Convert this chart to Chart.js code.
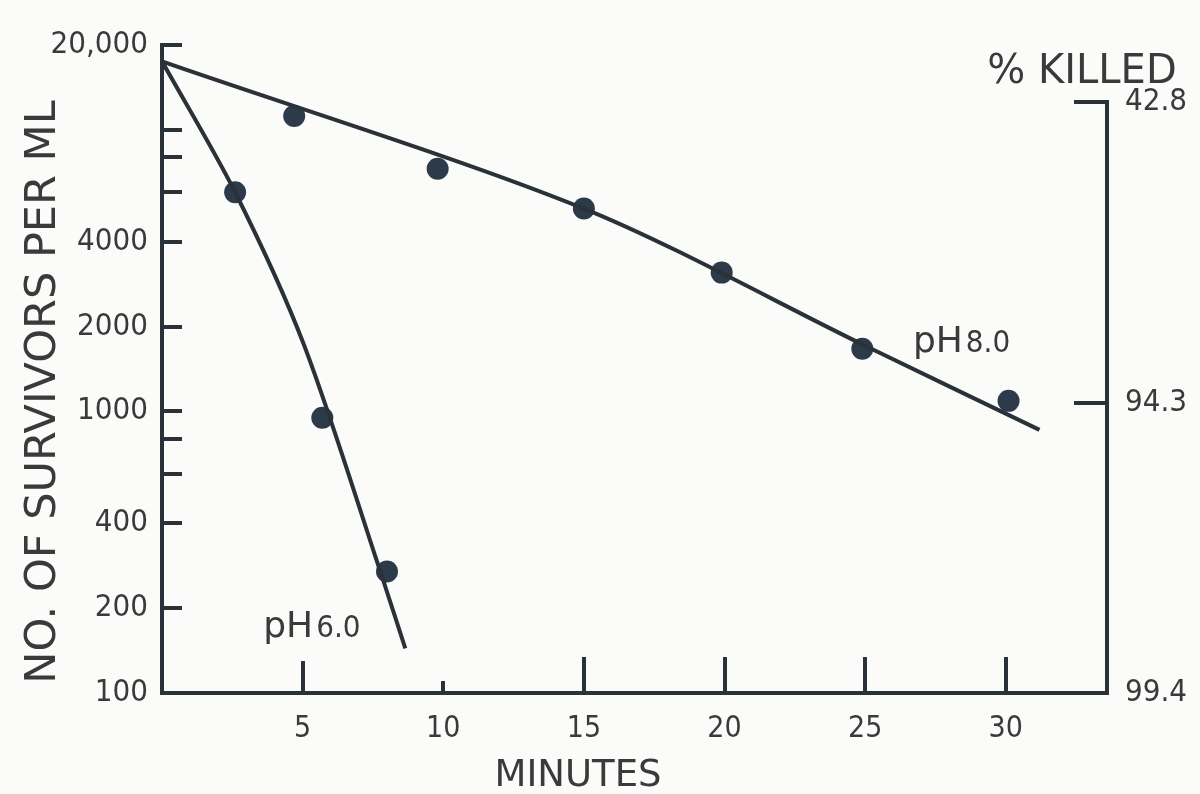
<!DOCTYPE html>
<html>
<head>
<meta charset="utf-8">
<script src="https://cdn.jsdelivr.net/npm/chart.js@4/dist/chart.umd.min.js"></script>
<style>
  html, body { margin: 0; background: #fbfbfa; }
  #wrap { width: 1200px; height: 794px; }
</style>
</head>
<body>
<div id="wrap"><canvas id="killChart" width="1200" height="794"></canvas></div>
<script>
// Survivor curves at pH 8.0 and pH 6.0

// measured points (minutes, survivors per ml)
const minutes8 = [4.7, 9.8, 15.0, 19.9, 24.9, 30.1];
const survivors8 = [11200, 7270, 5250, 3110, 1670, 1090];
const minutes6 = [2.6, 5.7, 8.0];
const survivors6 = [6000, 950, 270];

// drawn curves through them
const curveMinutes8 = [0, 15.0, 25.0, 31.2];
const curveSurvivors8 = [17500, 5250, 1710, 860];
const curveMinutes6 = [0, 2.6, 5.05, 7.86, 8.65];
const curveSurvivors6 = [17500, 6000, 1720, 252, 144];

// axes
const minuteTicks = [5, 10, 15, 20, 25, 30];
const survivorTicks = [100, 200, 400, 1000, 2000, 4000, 20000];
const survivorMarks = [200, 400, 600, 800, 1000, 2000, 4000, 6000, 8000, 10000, 20000];
const killedAt = [12600, 1070, 100];
const killedLabels = ['42.8', '94.3', '99.4'];

const ink = '#2b3138';
const dotInk = '#2c3a4a';
const textInk = '#3a3a3a';
const narrow = "'DejaVu Sans Condensed', 'Liberation Sans Narrow', 'DejaVu Sans', sans-serif";
const plain = "'DejaVu Sans', sans-serif";

const toXY = (xs, ys) => xs.map((v, i) => ({ x: v, y: ys[i] }));

// inward tick marks, the short right axis and the hand-lettered labels
const extras = {
  id: 'extras',
  afterDraw(chart) {
    const { ctx, chartArea: a, scales: { x, y, y2 } } = chart;
    const seg = (x1, y1, x2, y2_) => { ctx.beginPath(); ctx.moveTo(x1, y1); ctx.lineTo(x2, y2_); ctx.stroke(); };
    ctx.save();
    ctx.strokeStyle = ink;
    ctx.lineWidth = 4;

    survivorMarks.forEach(v => {
      const py = Math.round(y.getPixelForValue(v));
      seg(a.left, py, a.left + 20, py);
    });
    minuteTicks.forEach(v => {
      const px = Math.round(x.getPixelForValue(v));
      const len = v === 10 ? 12 : (v === 5 ? 32 : 36);
      seg(px, a.bottom, px, a.bottom - len);
    });

    const rTop = Math.round(y2.getPixelForValue(killedAt[0]));
    ctx.lineCap = 'square';
    seg(a.right, rTop, a.right, a.bottom);
    ctx.lineCap = 'butt';
    killedAt.forEach(v => {
      const py = Math.round(y2.getPixelForValue(v));
      seg(a.right - 33, py, a.right, py);
    });

    ctx.fillStyle = textInk;
    ctx.textBaseline = 'alphabetic';

    // axis titles
    ctx.textAlign = 'center';
    ctx.font = '37px ' + plain;
    ctx.fillText('MINUTES', 578, 786);
    ctx.font = '40px ' + plain;
    ctx.fillText('% KILLED', 1082, 83);

    ctx.save();
    ctx.translate(55, 392);
    ctx.rotate(-Math.PI / 2);
    ctx.font = '43px ' + plain;
    ctx.fillText('NO. OF SURVIVORS PER ML', 0, 0);
    ctx.restore();

    // curve labels
    const tag = (ph, val, px, py) => {
      ctx.textAlign = 'left';
      ctx.font = '36px ' + plain;
      ctx.fillText(ph, px, py);
      const w = ctx.measureText(ph).width;
      ctx.font = '31px ' + narrow;
      ctx.fillText(val, px + w + 3, py);
    };
    tag('pH', '8.0', x.getPixelForValue(26.7), y.getPixelForValue(1620));
    tag('pH', '6.0', x.getPixelForValue(3.6), y.getPixelForValue(158));
    ctx.restore();
  }
};

new Chart(document.getElementById('killChart'), {
  data: {
    datasets: [
      {
        type: 'line',
        label: 'pH 8.0 curve',
        data: toXY(curveMinutes8, curveSurvivors8),
        borderColor: ink,
        borderWidth: 4,
        pointRadius: 0,
        tension: 0.3
      },
      {
        type: 'line',
        label: 'pH 6.0 curve',
        data: toXY(curveMinutes6, curveSurvivors6),
        borderColor: ink,
        borderWidth: 4,
        pointRadius: 0,
        tension: 0.3
      },
      {
        type: 'scatter',
        label: 'pH 8.0',
        data: toXY(minutes8, survivors8),
        pointRadius: 11,
        pointBackgroundColor: dotInk,
        pointBorderWidth: 0
      },
      {
        type: 'scatter',
        label: 'pH 6.0',
        data: toXY(minutes6, survivors6),
        pointRadius: 11,
        pointBackgroundColor: dotInk,
        pointBorderWidth: 0
      }
    ]
  },
  options: {
    responsive: false,
    animation: false,
    devicePixelRatio: 1,
    layout: { padding: { top: 45, left: 0, right: 0, bottom: 0 } },
    plugins: {
      legend: { display: false },
      tooltip: { enabled: false }
    },
    scales: {
      x: {
        type: 'linear',
        position: 'bottom',
        min: 0,
        max: 33.6,
        afterFit: s => { s.height = 101; },
        afterBuildTicks: s => { s.ticks = minuteTicks.map(v => ({ value: v })); },
        grid: { display: false, drawTicks: false },
        border: { display: true, color: ink, width: 4 },
        ticks: {
          autoSkip: false,
          maxRotation: 0,
          padding: 18,
          color: textInk,
          font: { family: narrow, size: 30 }
        }
      },
      y: {
        type: 'logarithmic',
        position: 'left',
        min: 100,
        max: 20000,
        afterFit: s => { s.width = 162; },
        afterBuildTicks: s => { s.ticks = survivorTicks.map(v => ({ value: v })); },
        grid: { display: false, drawTicks: false },
        border: { display: true, color: ink, width: 4 },
        ticks: {
          autoSkip: false,
          padding: 14,
          color: textInk,
          font: { family: narrow, size: 31 },
          callback: v => v === 20000 ? '20,000' : String(v)
        }
      },
      y2: {
        type: 'logarithmic',
        position: 'right',
        min: 100,
        max: 20000,
        afterFit: s => { s.width = 93; },
        afterBuildTicks: s => { s.ticks = killedAt.map(v => ({ value: v })); },
        grid: { display: false, drawTicks: false },
        border: { display: false },
        ticks: {
          autoSkip: false,
          padding: 18,
          color: textInk,
          font: { family: narrow, size: 31 },
          callback: (v, i) => killedLabels[i]
        }
      }
    }
  },
  plugins: [extras]
});
</script>
</body>
</html>
